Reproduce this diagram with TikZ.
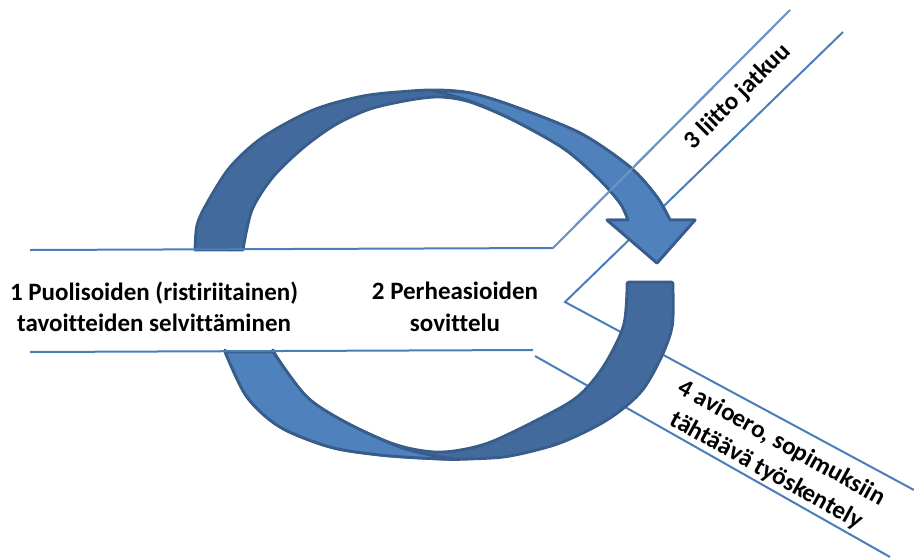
\documentclass[tikz,border=0pt]{standalone}
\usepackage{fontspec}
\setmainfont[Ligatures=NoCommon]{Carlito}
\usepackage{tikz}
\usetikzlibrary{positioning}
\definecolor{frontblue}{HTML}{4F81BD}
\definecolor{backblue}{HTML}{426A9C}
\definecolor{edgeblue}{HTML}{385D8A}
\definecolor{lineblue}{HTML}{4A7EBB}
\tikzset{
  bandln/.style={draw=lineblue,line width=2pt},
  ribfront/.style={fill=frontblue,draw=edgeblue,line width=2.8pt,line join=round},
  ribback/.style={fill=backblue,draw=edgeblue,line width=2.8pt,line join=round},
  steptxt/.style={font=\bfseries\fontsize{25}{31.5}\selectfont,align=center,inner sep=0pt},
}

\begin{document}
\begin{tikzpicture}[x=1pt,y=-1pt]
  \useasboundingbox (0,0) rectangle (914,558);
  % band corners
  \coordinate (lt) at (30,250);
  \coordinate (lb) at (30,352);
  \coordinate (ct) at (553,248);
  \coordinate (cb) at (533,350);
  \coordinate (cb2) at (535,356);
  \coordinate (apex) at (565,302);
  \coordinate (ut) at (790,10);
  \coordinate (ub) at (843,32);
  \coordinate (dt) at (914,490);
  \coordinate (db) at (890,557);
  % diagonal band borders (behind the ribbon)
  \draw[bandln] (ct) -- (ut);
  \draw[bandln] (ub) -- (apex) -- (dt);
  \draw[bandln] (cb2) -- (db);
  % upper ribbon, back side
  \filldraw[ribback] plot[smooth] coordinates {(195,250) (197,225) (207,203) (230,167)
      (263,137) (313,110) (363,96) (410,91) (440,90) (470,93) (513,106) (580,133)
      (630,167) (657,197) (670,220)}
    -- (695,220) -- (657,263) -- (607,220) -- (628,220)
    -- plot[smooth] coordinates {(628,220) (620,203) (597,177) (563,148) (513,120)
      (470,102) (440,97) (410,100) (370,109) (335,125) (303,148) (273,177)
      (252,210) (243,250)} -- cycle;
  % upper ribbon, front side with head
  \filldraw[ribfront] plot[smooth] coordinates {(432,90.5) (470,93) (513,106) (580,133)
      (630,167) (657,197) (670,220)}
    -- (695,220) -- (657,263) -- (607,220) -- (628,220)
    -- plot[smooth] coordinates {(628,220) (620,203) (597,177) (563,148) (513,120)
      (470,101) (432,90.5)} -- cycle;
  % lower ribbon, back side
  \filldraw[ribback,rounded corners=2pt] (627,282) -- (673,282)
    -- plot[smooth] coordinates {(673,290) (672,327) (660,360) (640,393) (607,420)
      (560,443) (510,456) (470,459) (440,459) (380,455) (330,447) (280,427)
      (247,397) (225,352)}
    -- plot[smooth] coordinates {(273,352) (307,397) (347,423) (397,445) (440,452)
      (485,444) (537,420) (577,397) (603,367) (623,327) (627,290)} -- cycle;
  % lower ribbon, front side
  \filldraw[ribfront] plot[smooth] coordinates {(225,352) (247,397) (280,427) (330,447)
      (380,455) (420,458) (458,459.5)}
    -- plot[smooth] coordinates {(458,459.5) (430,455) (397,446) (347,423) (307,397)
      (273,352)} -- cycle;
  % horizontal band borders (over the ribbon ends)
  \draw[bandln] (lt) -- (ct);
  \draw[bandln] (lb) -- (cb);
  % border seen through the arrow
  \draw[bandln,draw=lineblue!70!white,opacity=.6] (ct) -- (ut);
  % step texts
  \node[steptxt] (s1) at (154,307) {1 Puolisoiden (ristiriitainen)\\tavoitteiden selvittäminen};
  \node[steptxt] (s2) at (455,307) {2 Perheasioiden\\sovittelu};
  \node[steptxt,rotate=45] (s3) at (738,97) {3 liitto jatkuu};
  \node[steptxt,rotate=-29] (s4) at (774,457) {4 avioero, sopimuksiin\\tähtäävä työskentely};
\end{tikzpicture}
\end{document}
